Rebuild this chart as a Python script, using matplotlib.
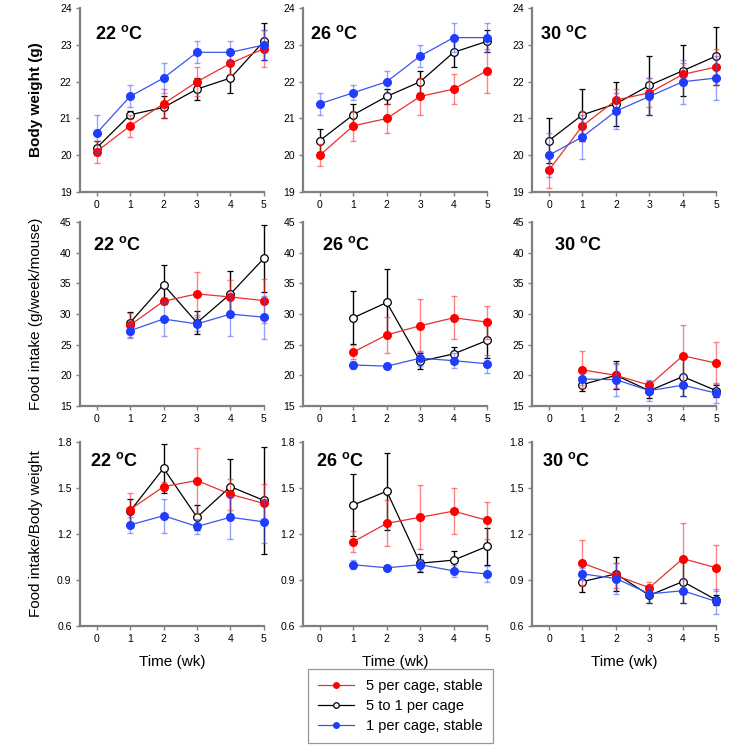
import numpy as np
import matplotlib.pyplot as plt
import matplotlib
from matplotlib.lines import Line2D

matplotlib.rcParams['font.family'] = ['Liberation Sans', 'DejaVu Sans']
matplotlib.rcParams['mathtext.fontset'] = 'custom'
matplotlib.rcParams['mathtext.rm'] = 'Liberation Sans'
matplotlib.rcParams['mathtext.bf'] = 'Liberation Sans:bold'

# ---------------- data (rows = 22, 26, 30 °C) ----------------
temps = ['22', '26', '30']
weeks_bw = [0, 1, 2, 3, 4, 5]
weeks_fi = [1, 2, 3, 4, 5]

# 体重 body weight (g)
bw_red = [[20.1, 20.8, 21.4, 22.0, 22.5, 22.9],
          [20.0, 20.8, 21.0, 21.6, 21.8, 22.3],
          [19.6, 20.8, 21.5, 21.7, 22.2, 22.4]]
bw_red_err = [[0.3, 0.3, 0.4, 0.4, 0.3, 0.5],
              [0.3, 0.4, 0.4, 0.5, 0.4, 0.6],
              [0.5, 0.4, 0.3, 0.4, 0.3, 0.5]]
bw_blk = [[20.2, 21.1, 21.3, 21.8, 22.1, 23.1],
          [20.4, 21.1, 21.6, 22.0, 22.8, 23.1],
          [20.4, 21.1, 21.4, 21.9, 22.3, 22.7]]
bw_blk_err = [[0.2, 0.1, 0.3, 0.3, 0.4, 0.5],
              [0.3, 0.3, 0.2, 0.3, 0.4, 0.3],
              [0.6, 0.7, 0.6, 0.8, 0.7, 0.8]]
bw_blu = [[20.6, 21.6, 22.1, 22.8, 22.8, 23.0],
          [21.4, 21.7, 22.0, 22.7, 23.2, 23.2],
          [20.0, 20.5, 21.2, 21.6, 22.0, 22.1]]
bw_blu_err = [[0.5, 0.3, 0.4, 0.3, 0.3, 0.4],
              [0.3, 0.2, 0.3, 0.3, 0.4, 0.4],
              [0.6, 0.6, 0.5, 0.5, 0.6, 0.6]]

# 摄食量 food intake (g/week/mouse)
fi_red = [[28.2, 32.1, 33.3, 32.8, 32.2],
          [23.8, 26.6, 28.1, 29.4, 28.7],
          [20.9, 20.0, 18.4, 23.2, 22.0]]
fi_red_err = [[2.0, 0.5, 3.5, 2.8, 3.6],
              [1.2, 2.9, 4.3, 3.5, 2.7],
              [3.0, 2.0, 0.6, 5.0, 3.4]]
fi_blk = [[28.6, 34.8, 28.6, 33.3, 39.1],
          [29.4, 31.9, 22.3, 23.5, 25.7],
          [18.5, 20.0, 17.5, 19.8, 17.5]]
fi_blk_err = [[1.8, 3.2, 1.9, 3.8, 5.5],
              [4.3, 5.5, 1.3, 1.1, 2.8],
              [1.1, 2.3, 1.2, 3.2, 1.0]]
fi_blu = [[27.3, 29.2, 28.4, 30.0, 29.5],
          [21.7, 21.5, 22.8, 22.4, 21.9],
          [19.4, 19.3, 17.5, 18.4, 17.1]]
fi_blu_err = [[1.2, 2.8, 1.2, 3.5, 3.5],
              [0.6, 0.3, 1.2, 1.2, 1.5],
              [1.0, 2.6, 1.7, 1.8, 1.6]]

# 摄食量/体重 ratio
rt_red = [[1.36, 1.51, 1.55, 1.46, 1.40],
          [1.15, 1.27, 1.31, 1.35, 1.29],
          [1.01, 0.93, 0.85, 1.04, 0.98]]
rt_red_err = [[0.11, 0.03, 0.21, 0.10, 0.13],
              [0.07, 0.15, 0.21, 0.15, 0.12],
              [0.15, 0.08, 0.04, 0.23, 0.15]]
rt_blk = [[1.35, 1.63, 1.31, 1.51, 1.42],
          [1.39, 1.48, 1.01, 1.03, 1.12],
          [0.89, 0.94, 0.80, 0.89, 0.77]]
rt_blk_err = [[0.08, 0.16, 0.08, 0.18, 0.35],
              [0.20, 0.25, 0.06, 0.06, 0.12],
              [0.07, 0.11, 0.05, 0.14, 0.03]]
rt_blu = [[1.26, 1.32, 1.25, 1.31, 1.28],
          [1.00, 0.98, 1.00, 0.96, 0.94],
          [0.94, 0.91, 0.81, 0.83, 0.76]]
rt_blu_err = [[0.05, 0.11, 0.05, 0.14, 0.14],
              [0.03, 0.01, 0.04, 0.04, 0.05],
              [0.04, 0.10, 0.06, 0.08, 0.08]]

labels = ['5 per cage, stable', '5 to 1 per cage', '1 per cage, stable']

# ---------------- layout ----------------
fig = plt.figure(figsize=(7.54, 7.47), dpi=100)
lefts = [0.106, 0.402, 0.706]
bottoms = [0.743, 0.4565, 0.162]
W, H = 0.244, 0.246
GRAY = '#7f7f7f'

RED_L, RED_M, RED_E = '#e8302e', '#ff0000', (1, 0.2, 0.2, 0.6)
BLU_L, BLU_M, BLU_E = '#3a55ee', '#1f3cff', (0.25, 0.35, 1, 0.55)

rows = [
    dict(x=weeks_bw, red=(bw_red, bw_red_err), blk=(bw_blk, bw_blk_err), blu=(bw_blu, bw_blu_err),
         ylim=(19, 24), yticks=[19, 20, 21, 22, 23, 24], fmt='{:.0f}',
         ylabel='Body weight (g)', bold=True,
         tpos=[(0.08, 0.86), (0.04, 0.86), (0.04, 0.86)]),
    dict(x=weeks_fi, red=(fi_red, fi_red_err), blk=(fi_blk, fi_blk_err), blu=(fi_blu, fi_blu_err),
         ylim=(15, 45), yticks=[15, 20, 25, 30, 35, 40, 45], fmt='{:.0f}',
         ylabel='Food intake (g/week/mouse)', bold=False,
         tpos=[(0.07, 0.875), (0.10, 0.875), (0.12, 0.875)]),
    dict(x=weeks_fi, red=(rt_red, rt_red_err), blk=(rt_blk, rt_blk_err), blu=(rt_blu, rt_blu_err),
         ylim=(0.6, 1.8), yticks=[0.6, 0.9, 1.2, 1.5, 1.8], fmt='{:.1f}',
         ylabel='Food intake/Body weight', bold=False,
         tpos=[(0.055, 0.90), (0.07, 0.90), (0.05, 0.90)]),
]

MS = 5.5
for r, row in enumerate(rows):
    for c in range(3):
        ax = fig.add_axes([lefts[c], bottoms[r], W, H])
        x = row['x']
        # black first, then red, blue on top
        m_blk, e_blk = row['blk']
        ax.errorbar(x, m_blk[c], yerr=e_blk[c], color='black', lw=0.9, marker='o', ms=MS,
                    mfc='white', mec='black', mew=0.9, ecolor='black', elinewidth=1,
                    capsize=2.5, capthick=1, clip_on=False, zorder=3)
        m_red, e_red = row['red']
        ax.errorbar(x, m_red[c], yerr=e_red[c], color=RED_L, lw=0.9, marker='o', ms=MS,
                    mfc=RED_M, mec=RED_M, ecolor=RED_E, elinewidth=1,
                    capsize=2.5, capthick=1, clip_on=False, zorder=4)
        m_blu, e_blu = row['blu']
        ax.errorbar(x, m_blu[c], yerr=e_blu[c], color=BLU_L, lw=0.9, marker='o', ms=MS,
                    mfc=BLU_M, mec=BLU_M, ecolor=BLU_E, elinewidth=1,
                    capsize=2.5, capthick=1, clip_on=False, zorder=5)

        ax.set_xlim(-0.5, 5.0)
        ax.set_ylim(*row['ylim'])
        ax.set_xticks([0, 1, 2, 3, 4, 5])
        ax.set_yticks(row['yticks'])
        ax.set_yticklabels([row['fmt'].format(v) for v in row['yticks']])
        for s in ['top', 'right']:
            ax.spines[s].set_visible(False)
        for s in ['left', 'bottom']:
            ax.spines[s].set_color(GRAY)
            ax.spines[s].set_linewidth(1.6)
        ax.tick_params(axis='both', direction='out', length=3, width=1, color=GRAY,
                       labelsize=7.5, pad=3)

        tx, ty = row['tpos'][c]
        ax.text(tx, ty, temps[c] + r' $^{\mathbf{o}}$C', transform=ax.transAxes,
                fontsize=13, fontweight='bold', va='center', ha='left')

        if c == 0:
            ax.set_ylabel(row['ylabel'], fontsize=11,
                          fontweight='bold' if row['bold'] else 'normal')
            ax.yaxis.set_label_coords(-0.20, 0.5)
        if r == 2:
            ax.set_xlabel('Time (wk)', fontsize=11, labelpad=8)

handles = [
    Line2D([], [], color=RED_L, lw=0.9, marker='o', ms=4, mfc=RED_M, mec=RED_M),
    Line2D([], [], color='black', lw=0.9, marker='o', ms=4, mfc='white', mec='black', mew=0.9),
    Line2D([], [], color=BLU_L, lw=0.9, marker='o', ms=4, mfc=BLU_M, mec=BLU_M),
]
leg = fig.legend(handles, labels, loc='center', bbox_to_anchor=(0.531, 0.055), fontsize=10.5,
                 fancybox=False, edgecolor=GRAY, handlelength=2.5,
                 labelspacing=0.4, borderpad=0.7, handletextpad=0.8, borderaxespad=0)
leg.get_frame().set_linewidth(0.9)

plt.savefig('out.png', dpi=100)
